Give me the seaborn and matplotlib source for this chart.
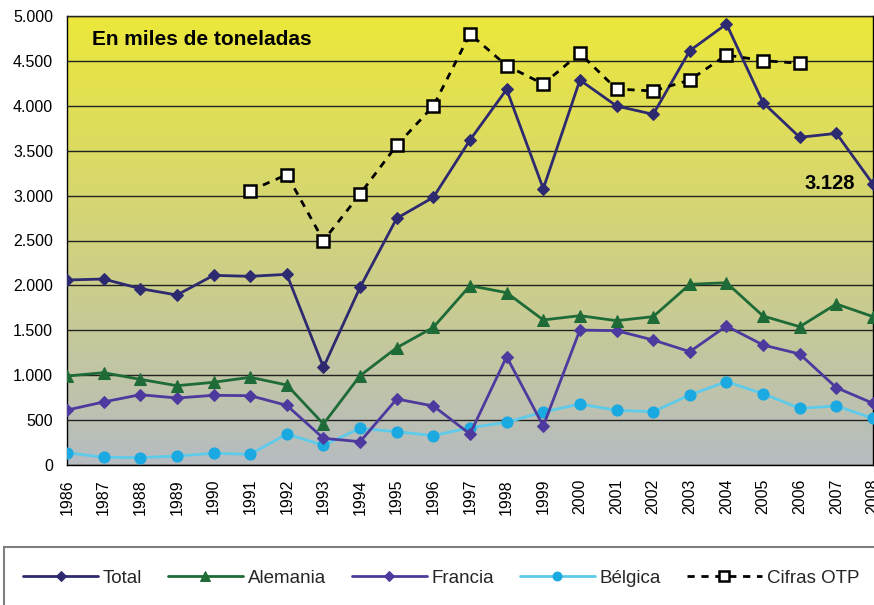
import numpy as np
import pandas as pd
import matplotlib
matplotlib.use("Agg")
import matplotlib.pyplot as plt
from matplotlib.patches import Rectangle
from matplotlib.ticker import FuncFormatter
import seaborn as sns

# ---- data (miles de toneladas) ----
years = list(range(1986, 2009))
total = [2060, 2071, 1964, 1893, 2112, 2101, 2123, 1088, 1979, 2747, 2981, 3619,
         4183, 3077, 4287, 3998, 3905, 4614, 4911, 4035, 3649, 3693, 3128]
alemania = [991, 1028, 954, 883, 921, 977, 891, 457, 995, 1306, 1533, 1997,
            1919, 1615, 1663, 1607, 1652, 2012, 2030, 1659, 1540, 1793, 1652]
francia = [612, 702, 783, 746, 776, 772, 664, 297, 260, 735, 657, 345,
           1206, 434, 1503, 1496, 1392, 1262, 1548, 1336, 1236, 861, 687]
belgica = [137, 86, 82, 100, 130, 119, 345, 219, 408, 371, 327, 416,
           475, 590, 679, 609, 594, 780, 928, 794, 631, 657, 520]
otp_years = list(range(1991, 2007))
otp = [3055, 3233, 2498, 3018, 3560, 3998, 4800, 4447, 4243, 4584, 4187, 4165,
       4287, 4566, 4503, 4473]
series_labels = ["Total", "Alemania", "Francia", "Bélgica", "Cifras OTP"]
title_text = "En miles de toneladas"

sns.set_style("white")
plt.rcParams["font.family"] = ["Liberation Sans", "DejaVu Sans"]

W, H = 874, 605
fig = plt.figure(figsize=(W / 100, H / 100), dpi=100)
fig.patch.set_facecolor("white")

left_px, right_px, top_px, bot_px = 67, 873, 16, 465
ax = fig.add_axes([left_px / W, 1 - bot_px / H,
                   (right_px - left_px) / W, (bot_px - top_px) / H])

# gradient background
top_c = np.array([236, 232, 58]) / 255
bot_c = np.array([182, 188, 193]) / 255
t = np.linspace(0, 1, 256)[:, None]
grad = (top_c[None, :] * (1 - t) + bot_c[None, :] * t)[:, None, :]
ax.imshow(grad, extent=[years[0], years[-1], 0, 5000], aspect="auto",
          origin="upper", zorder=0, interpolation="bilinear")

df = pd.DataFrame({"year": years, "Total": total, "Alemania": alemania,
                   "Francia": francia, "Bélgica": belgica})
dfo = pd.DataFrame({"year": otp_years, "otp": otp})

sns.lineplot(data=df, x="year", y="Bélgica", ax=ax, color="#5ECBEA", lw=2,
             marker="o", markersize=8, markerfacecolor="#1BA9E1",
             markeredgecolor="#1BA9E1", label=series_labels[3], zorder=3)
sns.lineplot(data=df, x="year", y="Francia", ax=ax, color="#4E3A9E", lw=2,
             marker="D", markersize=6.5, markerfacecolor="#4E3A9E",
             markeredgecolor="#4E3A9E", label=series_labels[2], zorder=4)
sns.lineplot(data=df, x="year", y="Alemania", ax=ax, color="#1E6B37", lw=2,
             marker="^", markersize=9, markerfacecolor="#1E6B37",
             markeredgecolor="#1E6B37", label=series_labels[1], zorder=5)
sns.lineplot(data=df, x="year", y="Total", ax=ax, color="#2E2A70", lw=2,
             marker="D", markersize=6.5, markerfacecolor="#2E2A70",
             markeredgecolor="#2E2A70", label=series_labels[0], zorder=6)
sns.lineplot(data=dfo, x="year", y="otp", ax=ax, color="black", lw=2,
             linestyle=(0, (2.6, 2.4)), marker="s", markersize=8.5,
             markerfacecolor="white", markeredgecolor="black",
             markeredgewidth=1.8, label=series_labels[4], zorder=7)

ax.set_xlim(years[0], years[-1])
ax.set_ylim(0, 5000)
ax.set_yticks(np.arange(0, 5001, 500))
ax.yaxis.set_major_formatter(FuncFormatter(lambda v, p: f"{int(v):,}".replace(",", ".")))
ax.set_xticks(years)
ax.set_xticklabels([str(y) for y in years], rotation=90)
ax.set_xlabel("")
ax.set_ylabel("")
ax.grid(axis="y", color="#222222", lw=1.0, zorder=1)
ax.set_axisbelow(False)
for g in ax.get_ygridlines():
    g.set_zorder(1)
for s in ax.spines.values():
    s.set_color("black")
    s.set_linewidth(1.0)
ax.tick_params(axis="both", direction="out", length=5, width=1, color="black",
               labelsize=11.5, labelcolor="black", pad=5)
ax.tick_params(axis="x", pad=5)

# label of last value
ax.annotate(f"{total[-1]:,}".replace(",", "."), xy=(years[-1], total[-1]),
            xytext=(-18, 1), textcoords="offset pixels", ha="right", va="center",
            fontsize=14.5, fontweight="bold", color="black", zorder=8)

fig.text(92 / W, 1 - 45 / H, title_text, fontsize=15, fontweight="bold",
         ha="left", va="baseline", color="black")

# legend
handles, labels = ax.get_legend_handles_labels()
ax.get_legend().remove()
order = [labels.index(l) for l in series_labels]
handles = [handles[i] for i in order]
fig.patches.append(Rectangle((4 / W, -0.05), 1.1, (H - 547) / H + 0.05,
                             transform=fig.transFigure, facecolor="white",
                             edgecolor="#7f7f7f", lw=1.5))
fig.legend(handles, series_labels, loc="center left",
           bbox_to_anchor=(23 / W, 1 - 578 / H), ncol=5, frameon=False,
           fontsize=13.5, handlelength=4.0, handletextpad=0.25,
           columnspacing=1.38, borderpad=0, borderaxespad=0, markerscale=0.8)

fig.savefig("out.png", dpi=100)
